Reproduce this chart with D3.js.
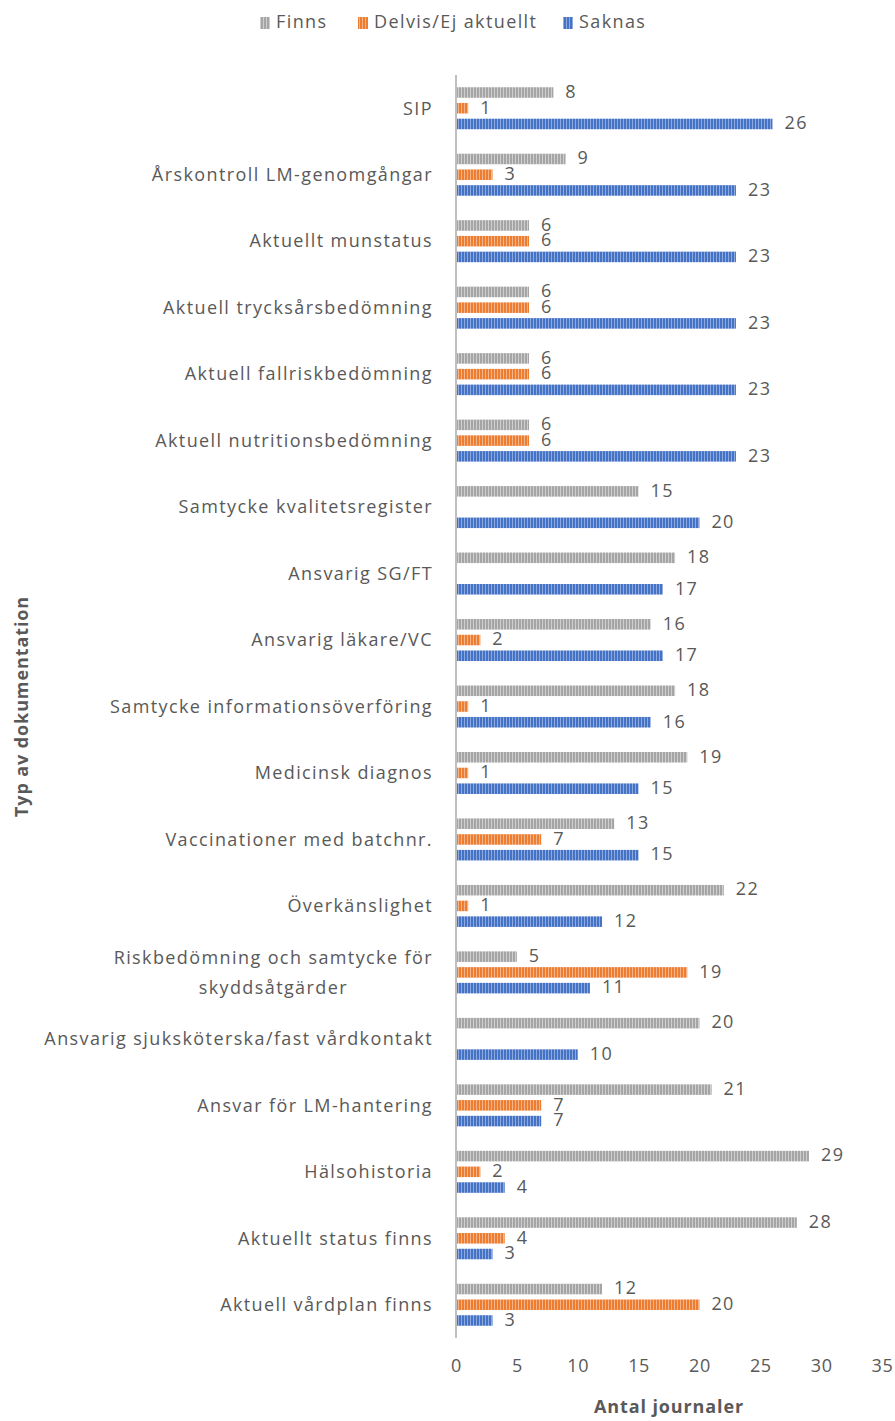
<!DOCTYPE html>
<html>
<head>
<meta charset="utf-8">
<script src="https://cdn.jsdelivr.net/npm/d3@7"></script>
<style>
  html, body { margin: 0; padding: 0; background: #fff; }
  text { font-family: "Open Sans", Lato, sans-serif; fill: #595959; letter-spacing: 1.4px; }
  text.title { letter-spacing: 0.9px; }
</style>
</head>
<body>
<svg id="chart" width="895" height="1421"></svg>
<script>
// Documentation categories, top to bottom
const categories = [
  "SIP",
  "Årskontroll LM-genomgångar",
  "Aktuellt munstatus",
  "Aktuell trycksårsbedömning",
  "Aktuell fallriskbedömning",
  "Aktuell nutritionsbedömning",
  "Samtycke kvalitetsregister",
  "Ansvarig SG/FT",
  "Ansvarig läkare/VC",
  "Samtycke informationsöverföring",
  "Medicinsk diagnos",
  "Vaccinationer med batchnr.",
  "Överkänslighet",
  "Riskbedömning och samtycke för skyddsåtgärder",
  "Ansvarig sjuksköterska/fast vårdkontakt",
  "Ansvar för LM-hantering",
  "Hälsohistoria",
  "Aktuellt status finns",
  "Aktuell vårdplan finns"
];

// Labels that break over two lines
const labelLines = {
  "Riskbedömning och samtycke för skyddsåtgärder": ["Riskbedömning och samtycke för", "skyddsåtgärder"]
};

const seriesNames = ["Finns", "Delvis/Ej aktuellt", "Saknas"];

const finns   = [8, 9, 6, 6, 6, 6, 15, 18, 16, 18, 19, 13, 22, 5, 20, 21, 29, 28, 12];
const delvis  = [1, 3, 6, 6, 6, 6, 0, 0, 2, 1, 1, 7, 1, 19, 0, 7, 2, 4, 20];
const saknas  = [26, 23, 23, 23, 23, 23, 20, 17, 17, 16, 15, 15, 12, 11, 10, 7, 4, 3, 3];

const xTicks = [0, 5, 10, 15, 20, 25, 30, 35];

const colors = { base: ["#A5A5A5", "#ED7D31", "#4472C4"], light: ["#CFCFCF", "#F5B38A", "#8EA9DE"] };

const values = [finns, delvis, saknas];

const FS = 18;

const svg = d3.select("#chart");
const margin = { left: 456, right: 13, top: 75, bottom: 83 };
const W = 895, H = 1421;

const x = d3.scaleLinear().domain([0, 35]).range([margin.left, W - margin.right]);
const y = d3.scaleBand().domain(categories).range([margin.top, H - margin.bottom]).padding(0);
const inner = d3.scaleBand().domain(seriesNames).range([-21, 21]).paddingInner(0.33);

// Striped fills
const defs = svg.append("defs");
seriesNames.forEach((s, i) => {
  const p = defs.append("pattern")
    .attr("id", "stripe" + i)
    .attr("patternUnits", "userSpaceOnUse")
    .attr("width", 3).attr("height", 10);
  p.append("rect").attr("width", 3).attr("height", 10).attr("fill", colors.base[i]);
  p.append("rect").attr("x", 2).attr("width", 1).attr("height", 10).attr("fill", colors.light[i]);
});

// Legend
const legendItems = [
  { name: "Finns", x: 260 },
  { name: "Delvis/Ej aktuellt", x: 358 },
  { name: "Saknas", x: 563 }
];
const legend = svg.append("g");
legendItems.forEach((d, i) => {
  legend.append("rect")
    .attr("x", d.x).attr("y", 17).attr("width", 10).attr("height", 12)
    .attr("fill", "url(#stripe" + i + ")");
  legend.append("text")
    .attr("x", d.x + 16).attr("y", 22).attr("dy", "0.35em")
    .attr("font-size", FS).text(d.name);
});

// Bars and value labels
const plot = svg.append("g");
categories.forEach((c, ci) => {
  const cy = y(c) + y.bandwidth() / 2;
  seriesNames.forEach((s, si) => {
    const v = values[si][ci];
    if (!v) return;
    const by = cy + inner(s);
    plot.append("rect")
      .attr("x", x(0)).attr("y", by)
      .attr("width", x(v) - x(0)).attr("height", inner.bandwidth())
      .attr("fill", "url(#stripe" + si + ")");
    plot.append("text")
      .attr("x", x(v) + 12).attr("y", by + inner.bandwidth() / 2 - 1).attr("dy", "0.35em")
      .attr("font-size", FS).text(v);
  });
});

// Category labels (multi-line labels are centred on their widest line)
categories.forEach(c => {
  const cy = y(c) + y.bandwidth() / 2;
  const lines = labelLines[c] || [c];
  const t = svg.append("text").attr("font-size", FS);
  const spans = lines.map((ln, k) => t.append("tspan")
    .attr("y", cy + (k - (lines.length - 1) / 2) * 30)
    .attr("dy", "0.35em")
    .text(ln));
  if (lines.length === 1) {
    t.attr("text-anchor", "end");
    spans[0].attr("x", 433);
  } else {
    const widths = spans.map(s => s.node().getComputedTextLength());
    const mid = 433 - d3.max(widths) / 2;
    t.attr("text-anchor", "middle");
    spans.forEach(s => s.attr("x", mid));
  }
});

// Vertical axis line
svg.append("line")
  .attr("x1", x(0)).attr("x2", x(0))
  .attr("y1", margin.top).attr("y2", H - margin.bottom)
  .attr("stroke", "#BFBFBF").attr("stroke-width", 2);

// X axis tick labels
const xAxis = d3.axisBottom(x).tickValues(xTicks).tickSize(0).tickPadding(0);
const gx = svg.append("g").attr("transform", `translate(0, ${H - margin.bottom + 21})`).call(xAxis);
gx.select(".domain").remove();
gx.selectAll("text").attr("font-size", FS).attr("fill", "#595959")
  .style("font-family", "'Open Sans', Lato, sans-serif").style("letter-spacing", "0.6px");

// Axis titles
svg.append("text").attr("class", "title")
  .attr("x", (x(0) + x(35)) / 2).attr("y", 1407).attr("dy", "0.35em")
  .attr("text-anchor", "middle").attr("font-size", FS).attr("font-weight", "bold")
  .text("Antal journaler");

svg.append("text").attr("class", "title")
  .attr("transform", `translate(22, ${(margin.top + H - margin.bottom) / 2}) rotate(-90)`)
  .attr("dy", "0.35em")
  .attr("text-anchor", "middle").attr("font-size", FS).attr("font-weight", "bold")
  .text("Typ av dokumentation");
</script>
</body>
</html>
